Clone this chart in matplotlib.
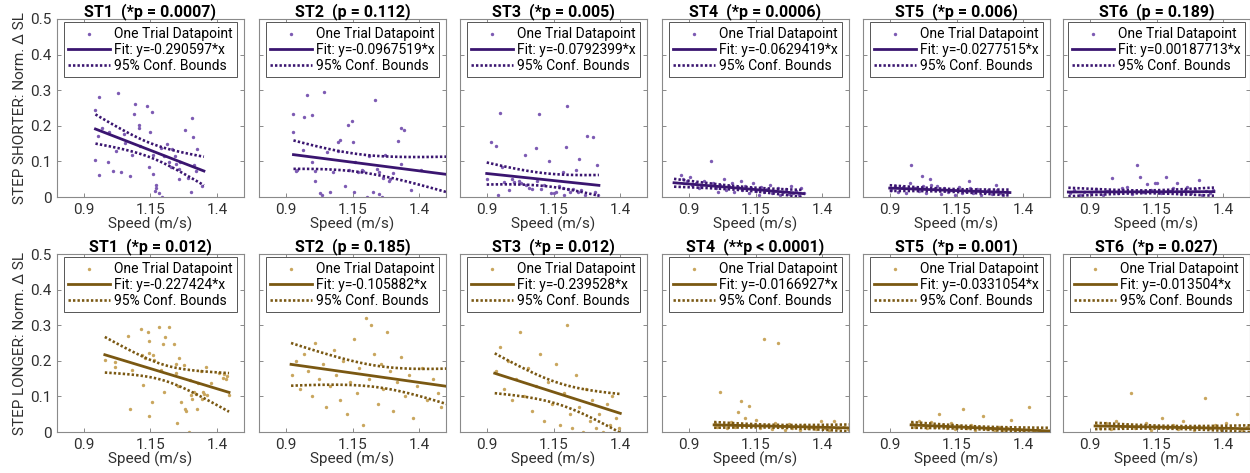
import numpy as np
import matplotlib
matplotlib.use("Agg")
import matplotlib.pyplot as plt

plt.rcParams['font.family'] = ['Roboto', 'DejaVu Sans']

# ---------------- data ----------------
stations = ["ST1", "ST2", "ST3", "ST4", "ST5", "ST6"]
top_p = ["*p = 0.0007", "p = 0.112", "*p = 0.005", "*p = 0.0006", "*p = 0.006", "p = 0.189"]
bot_p = ["*p = 0.012", "p = 0.185", "*p = 0.012", "**p < 0.0001", "*p = 0.001", "*p = 0.027"]
top_slope = [-0.290597, -0.0967519, -0.0792399, -0.0629419, -0.0277515, 0.00187713]
bot_slope = [-0.227424, -0.105882, -0.239528, -0.0166927, -0.0331054, -0.013504]

# fit line: x start, x end, y at start
top_x0 = [0.944, 0.929, 0.90, 0.845, 0.90, 0.82]
top_x1 = [1.35, 1.55, 1.32, 1.33, 1.35, 1.365]
top_y0 = [0.191, 0.119, 0.066, 0.040, 0.025, 0.014]
bot_x0 = [0.979, 0.92, 0.93, 0.995, 0.98, 0.92]
bot_x1 = [1.444, 1.55, 1.40, 1.50, 1.50, 1.50]
bot_y0 = [0.217, 0.190, 0.165, 0.020, 0.020, 0.017]
# confidence bounds: x of narrowest point, half width there, half width at x start
top_xm = [1.15, 1.17, 1.12, 1.10, 1.12, 1.10]
top_hw_min = [0.020, 0.025, 0.018, 0.005, 0.004, 0.004]
top_hw_start = [0.041, 0.040, 0.031, 0.011, 0.008, 0.012]
bot_xm = [1.20, 1.25, 1.17, 1.22, 1.22, 1.20]
bot_hw_min = [0.022, 0.030, 0.030, 0.004, 0.004, 0.004]
bot_hw_start = [0.050, 0.060, 0.056, 0.008, 0.008, 0.009]

# scatter points (speed, norm. delta SL)
t1_x = [0.941, 0.944, 0.956, 0.956, 0.953, 0.969, 0.994, 1.01, 1.03, 1.04, 1.05, 1.056, 1.08, 1.09, 1.093,
        1.106, 1.108, 1.11, 1.137, 1.144, 1.15, 1.156, 1.159, 1.16, 1.169, 1.17, 1.168, 1.18, 1.194, 1.19,
        1.2, 1.21, 1.219, 1.225, 1.23, 1.24, 1.244, 1.256, 1.257, 1.26, 1.28, 1.29, 1.30, 1.306, 1.31, 1.312,
        1.319, 1.325, 1.344, 0.99, 1.02, 1.075]
t1_y = [0.104, 0.243, 0.282, 0.061, 0.17, 0.193, 0.183, 0.074, 0.292, 0.069, 0.178, 0.151, 0.119, 0.233, 0.262,
        0.203, 0.193, 0.144, 0.257, 0.084, 0.183, 0.238, 0.119, 0.064, 0.035, 0.025, 0.018, 0.01, 0.0, 0.139,
        0.114, 0.149, 0.099, 0.084, 0.134, 0.114, 0.094, 0.079, 0.05, 0.099, 0.188, 0.054, 0.015, 0.223, 0.168, 0.089,
        0.074, 0.134, 0.03, 0.099, 0.129, 0.06]
t2_x = [0.929, 0.929, 0.967, 0.98, 0.999, 1.043, 0.938, 0.944, 0.963, 1.0, 1.008, 1.011, 1.027, 1.035, 1.056,
        1.065, 1.077, 1.096, 1.104, 1.097, 1.122, 1.132, 1.147, 1.153, 1.16, 1.138, 1.172, 1.185, 1.19, 1.157,
        1.204, 1.213, 1.225, 1.235, 1.242, 1.248, 1.25, 1.26, 1.265, 1.273, 1.286, 1.292, 1.30, 1.321, 1.33,
        1.343, 1.331, 1.368, 1.406]
t2_y = [0.233, 0.183, 0.226, 0.287, 0.23, 0.294, 0.074, 0.077, 0.131, 0.099, 0.074, 0.045, 0.01, 0.005, 0.126,
        0.015, 0.069, 0.155, 0.16, 0.129, 0.032, 0.203, 0.213, 0.155, 0.099, 0.076, 0.069, 0.077, 0.074, 0.015,
        0.0, 0.116, 0.015, 0.272, 0.079, 0.069, 0.008, 0.0, 0.054, 0.119, 0.045, 0.05, 0.067, 0.158, 0.193,
        0.188, 0.094, 0.02, 0.077]
t3_x = [0.90, 0.916, 0.935, 0.951, 0.957, 0.963, 0.944, 0.982, 1.001, 1.02, 1.042, 1.046, 1.058, 1.071, 1.084,
        1.09, 1.096, 1.103, 1.113, 1.134, 1.14, 1.153, 1.16, 1.172, 1.185, 1.187, 1.189, 1.195, 1.201, 1.204,
        1.21, 1.223, 1.235, 1.242, 1.246, 1.254, 1.267, 1.276, 1.296, 1.305, 1.311, 1.315, 0.995, 1.03]
t3_y = [0.05, 0.155, 0.142, 0.235, 0.084, 0.042, 0.005, 0.02, 0.042, 0.045, 0.117, 0.035, 0.025, 0.022, 0.137,
        0.045, 0.233, 0.022, 0.035, 0.102, 0.012, 0.01, 0.013, 0.03, 0.069, 0.025, 0.007, 0.141, 0.255, 0.023,
        0.015, 0.022, 0.077, 0.015, 0.106, 0.02, 0.005, 0.17, 0.168, 0.015, 0.089, 0.005, 0.05, 0.04]
t4_x = [0.87, 0.878, 0.892, 0.905, 0.913, 0.928, 0.947, 0.958, 0.985, 0.992, 1.004, 1.017, 1.031, 1.04, 1.052,
        1.063, 1.071, 1.083, 1.094, 1.101, 1.112, 1.124, 1.133, 1.141, 1.152, 1.163, 1.171, 1.182, 1.194, 1.203,
        1.211, 1.222, 1.234, 1.241, 1.252, 1.263, 1.274, 1.283, 1.291, 1.302, 1.311, 1.322, 1.331, 0.938, 1.011]
t4_y = [0.062, 0.05, 0.045, 0.055, 0.035, 0.04, 0.03, 0.045, 0.1, 0.038, 0.025, 0.035, 0.05, 0.02, 0.03,
        0.04, 0.015, 0.028, 0.045, 0.02, 0.032, 0.01, 0.025, 0.038, 0.018, 0.005, 0.028, 0.015, 0.022, 0.035,
        0.01, 0.018, 0.025, 0.005, 0.015, 0.022, 0.008, 0.03, 0.012, 0.018, 0.005, 0.025, 0.01, 0.025, 0.015]
t5_x = [0.905, 0.918, 0.932, 0.948, 0.962, 0.981, 0.994, 1.008, 1.021, 1.037, 1.052, 1.066, 1.078, 1.091, 1.104,
        1.117, 1.131, 1.146, 1.158, 1.172, 1.186, 1.198, 1.212, 1.227, 1.241, 1.256, 1.268, 1.283, 1.297, 1.311,
        1.324, 1.338, 0.975, 1.023, 1.055, 1.2, 1.3]
t5_y = [0.02, 0.032, 0.015, 0.028, 0.01, 0.09, 0.025, 0.018, 0.06, 0.012, 0.05, 0.022, 0.03, 0.008, 0.025,
        0.015, 0.02, 0.005, 0.028, 0.012, 0.018, 0.045, 0.01, 0.022, 0.005, 0.015, 0.02, 0.008, 0.035, 0.012,
        0.005, 0.015, 0.04, 0.03, 0.035, 0.025, 0.02]
t6_x = [0.825, 0.84, 0.862, 0.88, 0.905, 0.925, 0.948, 0.965, 0.985, 1.005, 1.022, 1.04, 1.058, 1.077, 1.087,
        1.1, 1.116, 1.13, 1.144, 1.15, 1.165, 1.184, 1.2, 1.212, 1.226, 1.24, 1.255, 1.266, 1.28, 1.295, 1.31,
        1.32, 1.335, 1.35, 1.36]
t6_y = [0.01, 0.02, 0.005, 0.015, 0.01, 0.022, 0.005, 0.018, 0.054, 0.012, 0.025, 0.028, 0.008, 0.089, 0.056,
        0.015, 0.037, 0.02, 0.038, 0.04, 0.01, 0.056, 0.018, 0.025, 0.038, 0.008, 0.02, 0.028, 0.012, 0.022, 0.047,
        0.005, 0.018, 0.012, 0.02]
b1_x = [0.981, 1.016, 1.018, 1.066, 1.075, 1.079, 1.116, 1.119, 1.121, 1.131, 1.141, 1.144, 1.144, 1.146, 1.154,
        1.159, 1.162, 1.181, 1.191, 1.196, 1.2, 1.204, 1.219, 1.238, 1.244, 1.246, 1.25, 1.254, 1.256, 1.266,
        1.275, 1.281, 1.284, 1.294, 1.296, 1.30, 1.306, 1.312, 1.319, 1.325, 1.329, 1.338, 1.341, 1.346, 1.35,
        1.356, 1.363, 1.375, 1.406, 1.421, 1.425, 1.438, 1.444, 1.434]
b1_y = [0.202, 0.182, 0.197, 0.269, 0.064, 0.174, 0.288, 0.217, 0.133, 0.207, 0.281, 0.256, 0.046, 0.223, 0.084,
        0.217, 0.202, 0.295, 0.174, 0.246, 0.111, 0.268, 0.295, 0.246, 0.19, 0.167, 0.025, 0.128, 0.207, 0.084,
        0.187, 0.066, 0.059, 0.0, 0.145, 0.103, 0.094, 0.113, 0.108, 0.064, 0.138, 0.172, 0.094, 0.111, 0.108,
        0.182, 0.105, 0.138, 0.167, 0.153, 0.162, 0.157, 0.103, 0.148]
b2_x = [0.925, 0.94, 0.955, 0.97, 0.985, 1.0, 1.01, 1.025, 1.04, 1.05, 1.065, 1.08, 1.09, 1.105, 1.115, 1.13,
        1.14, 1.155, 1.165, 1.175, 1.19, 1.2, 1.21, 1.22, 1.23, 1.245, 1.255, 1.265, 1.28, 1.29, 1.3, 1.315,
        1.33, 1.345, 1.36, 1.375, 1.39, 1.41, 1.43, 1.45, 1.47, 1.48]
b2_y = [0.16, 0.2, 0.12, 0.22, 0.17, 0.1, 0.25, 0.15, 0.19, 0.07, 0.13, 0.23, 0.16, 0.09, 0.2, 0.05, 0.14, 0.26,
        0.11, 0.18, 0.02, 0.32, 0.15, 0.3, 0.22, 0.08, 0.19, 0.12, 0.28, 0.17, 0.06, 0.14, 0.21, 0.1, 0.16, 0.04,
        0.13, 0.18, 0.09, 0.15, 0.11, 0.07]
b3_x = [0.935, 0.95, 0.965, 0.98, 0.995, 1.01, 1.025, 1.04, 1.055, 1.07, 1.085, 1.1, 1.115, 1.13, 1.145, 1.16,
        1.175, 1.19, 1.2, 1.21, 1.22, 1.235, 1.245, 1.26, 1.27, 1.285, 1.295, 1.31, 1.32, 1.335, 1.35, 1.36, 1.37,
        1.385, 1.395]
b3_y = [0.17, 0.24, 0.12, 0.2, 0.09, 0.15, 0.28, 0.1, 0.18, 0.06, 0.13, 0.22, 0.03, 0.14, 0.08, 0.19, 0.02, 0.11,
        0.3, 0.05, 0.01, 0.16, 0.07, 0.0, 0.12, 0.03, 0.09, 0.01, 0.05, 0.0, 0.08, 0.02, 0.1, 0.04, 0.01]
b4_x = [0.998, 1.005, 1.018, 1.03, 1.045, 1.06, 1.072, 1.083, 1.094, 1.109, 1.125, 1.135, 1.153, 1.165, 1.182,
        1.195, 1.21, 1.222, 1.235, 1.248, 1.26, 1.275, 1.288, 1.3, 1.315, 1.33, 1.345, 1.36, 1.375, 1.394, 1.41,
        1.425, 1.444, 1.46, 1.48, 1.495]
b4_y = [0.025, 0.015, 0.111, 0.02, 0.01, 0.028, 0.015, 0.057, 0.087, 0.039, 0.072, 0.018, 0.034, 0.012, 0.261,
        0.02, 0.008, 0.025, 0.249, 0.015, 0.005, 0.022, 0.012, 0.018, 0.005, 0.02, 0.01, 0.015, 0.008, 0.031, 0.012,
        0.005, 0.03, 0.01, 0.015, 0.008]
b5_x = [0.985, 0.995, 1.01, 1.025, 1.04, 1.055, 1.07, 1.085, 1.1, 1.115, 1.13, 1.145, 1.16, 1.175, 1.19, 1.205,
        1.22, 1.235, 1.25, 1.265, 1.28, 1.295, 1.31, 1.325, 1.34, 1.355, 1.37, 1.385, 1.4, 1.42, 1.44, 1.46, 1.48,
        1.495]
b5_y = [0.025, 0.015, 0.03, 0.02, 0.01, 0.028, 0.015, 0.05, 0.02, 0.012, 0.025, 0.008, 0.018, 0.065, 0.01, 0.02,
        0.005, 0.015, 0.045, 0.008, 0.012, 0.003, 0.015, 0.005, 0.01, 0.035, 0.002, 0.008, 0.005, 0.07, 0.003,
        0.006, 0.001, 0.004]
b6_x = [0.925, 0.94, 0.96, 0.98, 1.0, 1.02, 1.04, 1.055, 1.07, 1.09, 1.11, 1.13, 1.15, 1.17, 1.19, 1.21, 1.23,
        1.25, 1.27, 1.29, 1.31, 1.33, 1.35, 1.37, 1.39, 1.41, 1.43, 1.45, 1.47, 1.49]
b6_y = [0.02, 0.012, 0.025, 0.008, 0.03, 0.015, 0.02, 0.11, 0.01, 0.018, 0.025, 0.005, 0.015, 0.04, 0.012, 0.02,
        0.008, 0.03, 0.015, 0.005, 0.018, 0.095, 0.01, 0.02, 0.008, 0.025, 0.012, 0.05, 0.005, 0.015]

top_x = [t1_x, t2_x, t3_x, t4_x, t5_x, t6_x]
top_y = [t1_y, t2_y, t3_y, t4_y, t5_y, t6_y]
bot_x = [b1_x, b2_x, b3_x, b4_x, b5_x, b6_x]
bot_y = [b1_y, b2_y, b3_y, b4_y, b5_y, b6_y]

x_ticks = [0.9, 1.15, 1.4]
x_ticklabels = ["0.9", "1.15", "1.4"]
y_ticks = [0, 0.1, 0.2, 0.3, 0.4, 0.5]
y_ticklabels = ["0", "0.1", "0.2", "0.3", "0.4", "0.5"]
row_ylabels = ["STEP SHORTER: Norm. \u0394 SL", "STEP LONGER: Norm. \u0394 SL"]

# ---------------- styling ----------------
W, H = 1250, 473
fig = plt.figure(figsize=(W / 100, H / 100), dpi=100)

rows = [
    dict(p=top_p, slope=top_slope, x0=top_x0, x1=top_x1, y0=top_y0, xm=top_xm, hmin=top_hw_min,
         hst=top_hw_start, xs=top_x, ys=top_y, pt="#7d5bb3", ln="#3a1570", top=19, bottom=197),
    dict(p=bot_p, slope=bot_slope, x0=bot_x0, x1=bot_x1, y0=bot_y0, xm=bot_xm, hmin=bot_hw_min,
         hst=bot_hw_start, xs=bot_x, ys=bot_y, pt="#c9a65e", ln="#7a5812", top=254, bottom=432),
]
ax_w = 187
lefts = [57, 259, 460, 662, 863, 1063]
tick_col = "#303030"

for r, row in enumerate(rows):
    ax_h = row["bottom"] - row["top"]
    for c in range(6):
        ax = fig.add_axes([lefts[c] / W, 1 - row["bottom"] / H, ax_w / W, ax_h / H])
        ax.set_xlim(0.8, 1.5)
        ax.set_ylim(0, 0.5)
        ax.scatter(row["xs"][c], row["ys"][c], s=6, color=row["pt"], linewidths=0, zorder=2,
                   label="One Trial Datapoint")
        slope = row["slope"][c]
        x0, x1, y0 = row["x0"][c], row["x1"][c], row["y0"][c]
        xx = np.linspace(x0, x1, 100)
        fit = y0 + slope * (xx - x0)
        ax.plot(xx, fit, color=row["ln"], lw=2.0, zorder=3, label=f"Fit: y={slope:g}*x")
        a = row["hmin"][c]
        xm = row["xm"][c]
        b = np.sqrt(max(row["hst"][c] ** 2 - a ** 2, 0)) / abs(x0 - xm)
        hw = np.sqrt(a ** 2 + (b * (xx - xm)) ** 2)
        ax.plot(xx, fit + hw, color=row["ln"], lw=1.9, ls=(0, (0.9, 0.8)), zorder=3,
                label="95% Conf. Bounds")
        ax.plot(xx, fit - hw, color=row["ln"], lw=1.9, ls=(0, (0.9, 0.8)), zorder=3)

        ax.set_xticks(x_ticks)
        ax.set_xticklabels(x_ticklabels)
        ax.set_yticks(y_ticks)
        if c == 0:
            ax.set_yticklabels(y_ticklabels)
            ax.set_ylabel(row_ylabels[r], fontsize=11, color=tick_col, labelpad=2)
        else:
            ax.set_yticklabels([])
        ax.tick_params(direction="in", length=3, width=0.6, top=True, right=True,
                       labelsize=11, pad=4)
        ax.tick_params(axis="both", colors="#777777", labelcolor=tick_col)
        for s in ax.spines.values():
            s.set_color("#8a8a8a")
            s.set_linewidth(0.8)
        ax.set_xlabel("Speed (m/s)", fontsize=11, color=tick_col, labelpad=0)
        ax.set_title(f"{stations[c]}  ({row['p'][c]})", fontsize=11.5, fontweight="bold", pad=2)
        leg = ax.legend(loc="upper center", fontsize=10, handlelength=3.0, handletextpad=0.3,
                        borderpad=0.3, labelspacing=0.15, borderaxespad=0.25, fancybox=False,
                        framealpha=1, edgecolor="#555555", markerscale=1.0, scatterpoints=1)
        leg.get_frame().set_linewidth(0.7)

fig.savefig("out.png", dpi=100)
